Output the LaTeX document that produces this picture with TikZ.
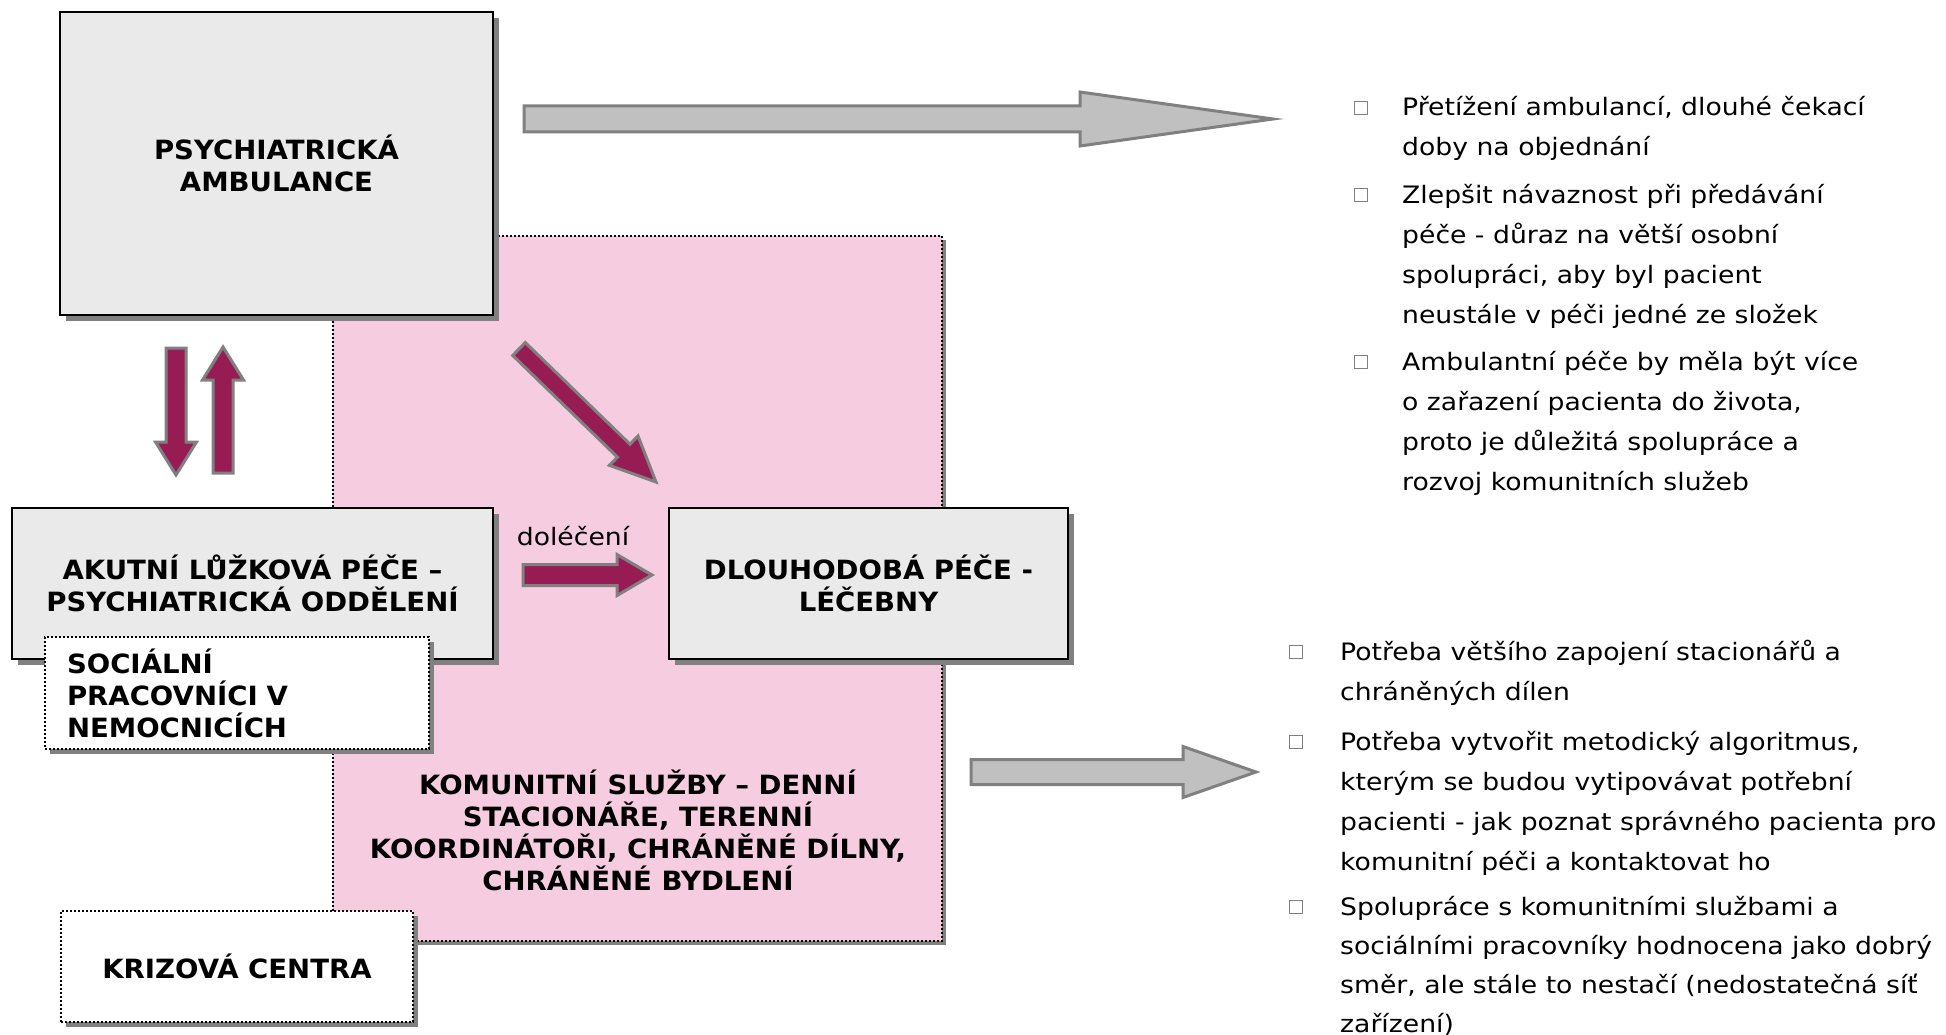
\documentclass[tikz,border=0pt]{standalone}
\usepackage{fontspec}
\setmainfont{DejaVu Sans}
\newfontfamily\bodyfont[FakeStretch=1.11]{DejaVu Sans}
\newfontfamily\hdfont[FakeStretch=1.04]{DejaVu Sans}
\usetikzlibrary{calc,shadows}
\definecolor{boxgray}{RGB}{234,234,234}
\definecolor{shgray}{RGB}{128,128,128}
\definecolor{pinkfill}{RGB}{246,204,224}
\definecolor{arrowred}{RGB}{152,28,84}
\definecolor{arrowgray}{RGB}{192,192,192}
% #1 style, #2 tail coordinate, #3 tip coordinate, #4 shaft half width, #5 head half width, #6 head length
\newcommand\blockarrow[6]{%
  \path ($(#3)!#6!(#2)$) coordinate (bah);
  \filldraw[#1] ($(#2)!#4!90:(#3)$) -- ($(bah)!#4!90:(#3)$) -- ($(bah)!#5!90:(#3)$) -- (#3)
    -- ($(bah)!#5!-90:(#3)$) -- ($(bah)!#4!-90:(#3)$) -- ($(#2)!#4!-90:(#3)$) -- cycle;
}
\begin{document}
\begin{tikzpicture}[x=1pt,y=-1pt,
  hd/.style={font=\hdfont\bfseries\fontsize{26.5}{32}\selectfont},
  body/.style={font=\bodyfont\fontsize{24}{40}\selectfont, inner sep=0pt},
  graybox/.style={draw=black, line width=2pt, fill=boxgray, inner sep=0pt,
    drop shadow={shadow xshift=6pt, shadow yshift=-6pt, fill=shgray, opacity=1}, hd, align=center},
  dotbox/.style={draw=black, line width=2pt, dash pattern=on 2pt off 2pt, fill=white, inner sep=0pt,
    drop shadow={shadow xshift=5pt, shadow yshift=-5pt, fill=shgray, opacity=1}, hd},
  pinkbox/.style={draw=black, line width=2pt, dash pattern=on 2pt off 2pt, fill=pinkfill, inner sep=0pt,
    drop shadow={shadow xshift=4pt, shadow yshift=-4pt, fill=shgray, opacity=1}},
  redarrow/.style={fill=arrowred, draw=shgray, line width=3pt, line join=miter},
  grayarrow/.style={fill=arrowgray, draw=shgray, line width=3pt, line join=miter},
  bulletbox/.style={draw=shgray, line width=1.5pt, fill=white, minimum size=13pt, inner sep=0pt},
]
\useasboundingbox (0,0) rectangle (1946,1035);

% boxes
\node[pinkbox, minimum width=609pt, minimum height=705pt] (pink) at (637.5,588.5) {};
\node[graybox, minimum width=433pt, minimum height=303pt] (psy) at (276.5,163.5) {PSYCHIATRICKÁ\\AMBULANCE};
\node[graybox, minimum width=481pt, minimum height=151pt] (akut) at (252.5,583.5) {AKUTNÍ LŮŽKOVÁ PÉČE –\\PSYCHIATRICKÁ ODDĚLENÍ};
\node[graybox, minimum width=399pt, minimum height=151pt] (dlou) at (868.5,583.5) {DLOUHODOBÁ PÉČE -\\LÉČEBNY};
\node[dotbox, minimum width=384pt, minimum height=112pt, text width=340pt, align=left] (soc) at (237,693) {SOCIÁLNÍ\\PRACOVNÍCI V\\NEMOCNICÍCH};
\node[dotbox, minimum width=352pt, minimum height=111pt, align=center] (kriz) at (237,966.5) {KRIZOVÁ CENTRA};
\node[hd, align=center] (komtext) at (638,830) {KOMUNITNÍ SLUŽBY – DENNÍ\\STACIONÁŘE, TERENNÍ\\KOORDINÁTOŘI, CHRÁNĚNÉ DÍLNY,\\CHRÁNĚNÉ BYDLENÍ};
\node[body, anchor=base] (dol) at (573,545) {doléčení};

% arrows
\coordinate (a1s) at (524,119);  \coordinate (a1e) at (1273,119);
\coordinate (a2s) at (971,772);  \coordinate (a2e) at (1256,772);
\coordinate (dns) at (176,348);  \coordinate (dne) at (176,475);
\coordinate (ups) at (223,473);  \coordinate (upe) at (223,347);
\coordinate (dgs) at (519,349);  \coordinate (dge) at (656,482);
\coordinate (hzs) at (523,575);  \coordinate (hze) at (652,575);
\blockarrow{grayarrow}{a1s}{a1e}{13pt}{27pt}{193pt}
\blockarrow{grayarrow}{a2s}{a2e}{12.5pt}{25.5pt}{73pt}
\blockarrow{redarrow}{dns}{dne}{10pt}{20.5pt}{33pt}
\blockarrow{redarrow}{ups}{upe}{10pt}{20.5pt}{33pt}
\blockarrow{redarrow}{dgs}{dge}{9pt}{20.5pt}{45pt}
\blockarrow{redarrow}{hzs}{hze}{10.5pt}{20.5pt}{35pt}

% top right list (anchor = baseline of the last line)
\node[bulletbox] (q1) at (1361,108) {};
\node[bulletbox] (q2) at (1361,195) {};
\node[bulletbox] (q3) at (1361,362) {};
\node[body, anchor=base west, align=left] (t1) at (1402,156) {Přetížení ambulancí, dlouhé čekací\\doby na objednání};
\node[body, anchor=base west, align=left] (t2) at (1402,323) {Zlepšit návaznost při předávání\\péče - důraz na větší osobní\\spolupráci, aby byl pacient\\neustále v péči jedné ze složek};
\node[body, anchor=base west, align=left] (t3) at (1402,490) {Ambulantní péče by měla být více\\o zařazení pacienta do života,\\proto je důležitá spolupráce a\\rozvoj komunitních služeb};

% bottom right list
\node[bulletbox] (r1) at (1296,652) {};
\node[bulletbox] (r2) at (1296,742) {};
\node[bulletbox] (r3) at (1296,907) {};
\node[body, anchor=base west, align=left] (b1) at (1340,700) {Potřeba většího zapojení stacionářů a\\chráněných dílen};
\node[body, anchor=base west, align=left] (b2) at (1340,870) {Potřeba vytvořit metodický algoritmus,\\kterým se budou vytipovávat potřební\\pacienti - jak poznat správného pacienta pro\\komunitní péči a kontaktovat ho};
\node[body, anchor=base west, align=left, font=\bodyfont\fontsize{24}{39}\selectfont] (b3) at (1340,1032) {Spolupráce s komunitními službami a\\sociálními pracovníky hodnocena jako dobrý\\směr, ale stále to nestačí (nedostatečná síť\\zařízení)};
\end{tikzpicture}
\end{document}
